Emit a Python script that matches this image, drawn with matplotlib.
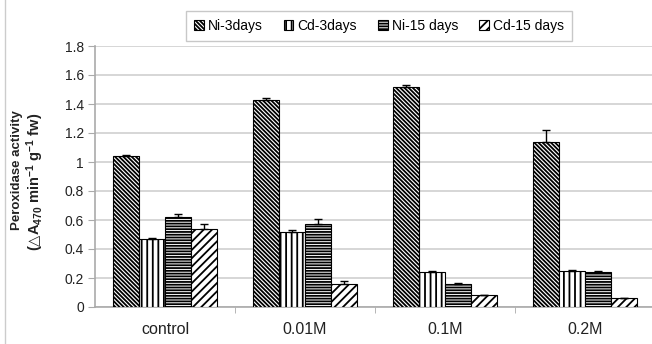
import matplotlib
matplotlib.use("Agg")
import matplotlib.pyplot as plt
import numpy as np

plt.rcParams['font.family'] = ['Liberation Sans', 'DejaVu Sans']
plt.rcParams['mathtext.fontset'] = 'custom'
plt.rcParams['mathtext.rm'] = 'Liberation Sans'
plt.rcParams['mathtext.bf'] = 'Liberation Sans:bold'
plt.rcParams['mathtext.sf'] = 'DejaVu Sans'
plt.rcParams['mathtext.default'] = 'bf'
plt.rcParams['hatch.linewidth'] = 1.3

categories = ["control", "0.01M", "0.1M", "0.2M"]
series_names = ["Ni-3days", "Cd-3days", "Ni-15 days", "Cd-15 days"]
ni_3days = [1.04, 1.43, 1.52, 1.14]
ni_3days_err = [0.005, 0.01, 0.01, 0.08]
cd_3days = [0.47, 0.52, 0.24, 0.25]
cd_3days_err = [0.003, 0.01, 0.005, 0.005]
ni_15days = [0.62, 0.57, 0.16, 0.24]
ni_15days_err = [0.02, 0.04, 0.005, 0.01]
cd_15days = [0.54, 0.16, 0.08, 0.06]
cd_15days_err = [0.03, 0.02, 0.005, 0.005]
yticks = [0, 0.2, 0.4, 0.6, 0.8, 1, 1.2, 1.4, 1.6, 1.8]
ytick_labels = ["0", "0.2", "0.4", "0.6", "0.8", "1", "1.2", "1.4", "1.6", "1.8"]

values = [ni_3days, cd_3days, ni_15days, cd_15days]
errors = [ni_3days_err, cd_3days_err, ni_15days_err, cd_15days_err]
hatches = ['\\' * 8, '|||', '------', '////']

fig = plt.figure(figsize=(6.52, 3.44), dpi=100)
ax = fig.add_axes([95/652, 1-307/344, (652-95)/652, (307-46)/344])

x = np.arange(len(categories))
w = 0.185
for i, (vals, errs, h, name) in enumerate(zip(values, errors, hatches, series_names)):
    pos = x + (i - 1.5) * w
    ax.bar(pos, vals, width=w, color='white', edgecolor='black', linewidth=0.8,
           hatch=h, label=name, zorder=3)
    ax.errorbar(pos, vals, yerr=[np.zeros(len(vals)), errs], fmt='none',
                ecolor='black', elinewidth=1.0, capsize=3, capthick=1.0, zorder=4)

ax.set_xlim(-0.5, -0.5 + 557/140)
ax.set_ylim(0, 1.8)
ax.set_yticks(yticks)
ax.set_yticklabels(ytick_labels, fontsize=10, color='#222222')
ax.yaxis.grid(True, color='#cfcfcf', linewidth=1.2, zorder=0)
ax.set_axisbelow(True)
ax.tick_params(axis='y', length=5, color='#aaaaaa', pad=3)
ax.set_xticks(x)
ax.set_xticklabels(categories, fontsize=11.5, color='#222222')
ax.tick_params(axis='x', which='major', length=0, pad=11)
ax.set_xticks([0.5, 1.5, 2.5], minor=True)
ax.tick_params(axis='x', which='minor', length=4, color='#aaaaaa')
for s in ['top', 'right']:
    ax.spines[s].set_visible(False)
for s in ['left', 'bottom']:
    ax.spines[s].set_color('#aaaaaa')
    ax.spines[s].set_linewidth(1.2)

leg = ax.legend(ncol=4, loc='center', bbox_to_anchor=(379/652, 1-26/344),
                bbox_transform=fig.transFigure, fontsize=10, frameon=True,
                fancybox=False, edgecolor='#bbbbbb', handlelength=0.7,
                handleheight=0.7, handletextpad=0.3, columnspacing=1.5,
                borderpad=0.55)
leg.get_frame().set_linewidth(1.0)

fig.text(17/652, 1-170/344, "Peroxidase activity", rotation=90, fontsize=9.5,
         fontweight='bold', ha='center', va='center', color='#222222')
fig.text(35/652, 1-182/344, "($\\mathsf{\u25b3}$A$_{470}$ min$^{-1}$ g$^{-1}$ fw)", rotation=90,
         fontsize=10.5, fontweight='bold', ha='center', va='center', color='#222222',
         family=['Liberation Sans', 'DejaVu Sans'])

fig.add_artist(plt.Line2D([5/652, 5/652], [0, 1], color='#cccccc', linewidth=1.0,
                          transform=fig.transFigure))

fig.savefig("out.png", dpi=100)
